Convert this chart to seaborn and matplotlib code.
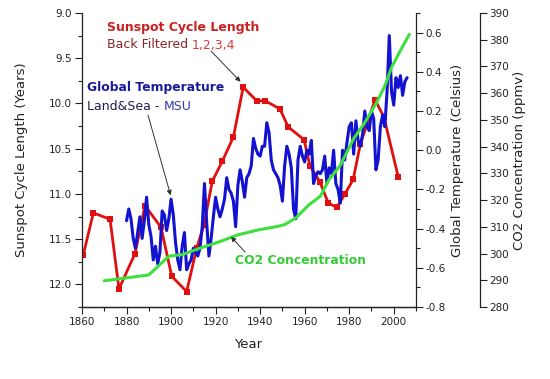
import numpy as np
import pandas as pd
import seaborn as sns
import matplotlib.pyplot as plt
import matplotlib.ticker as tkr

# sunspot cycle length (years), red curve
ssc_year = [1860.6, 1865.1, 1872.6, 1876.6, 1883.8, 1888.3, 1895.5, 1900.3, 1907.0, 1911.5,
            1914.8, 1918.5, 1923.0, 1928.0, 1932.4, 1938.4, 1942.2, 1948.9, 1952.6, 1959.7,
            1962.4, 1966.9, 1970.6, 1974.4, 1978.1, 1981.8, 1985.0, 1991.6, 1995.6, 2002.0]
ssc_len = [11.67, 11.21, 11.28, 12.05, 11.66, 11.13, 11.37, 11.91, 12.08, 11.60,
           11.34, 10.86, 10.64, 10.37, 9.82, 9.97, 9.97, 10.06, 10.26, 10.40,
           10.69, 10.87, 11.10, 11.15, 11.00, 10.84, 10.45, 9.96, 10.15, 10.81]

# global temperature anomaly (Celsius), blue curve
temp_year = list(range(1880, 2007))
temp_anom = [-0.36, -0.30, -0.35, -0.45, -0.50, -0.42, -0.34, -0.45, -0.36, -0.24,
             -0.38, -0.44, -0.56, -0.49, -0.58, -0.52, -0.31, -0.33, -0.41, -0.35,
             -0.25, -0.33, -0.47, -0.56, -0.61, -0.49, -0.42, -0.61, -0.58, -0.56,
             -0.50, -0.52, -0.54, -0.50, -0.39, -0.17, -0.37, -0.54, -0.45, -0.34,
             -0.24, -0.30, -0.34, -0.30, -0.25, -0.14, -0.20, -0.22, -0.26, -0.39,
             -0.18, -0.10, -0.16, -0.24, -0.14, -0.12, -0.08, 0.06, 0.01, -0.02,
             -0.03, 0.02, 0.02, 0.14, 0.09, -0.05, -0.10, -0.12, -0.14, -0.18,
             -0.26, -0.08, 0.02, -0.02, -0.09, -0.30, -0.35, -0.05, 0.02, -0.03,
             -0.06, 0.00, -0.02, 0.05, -0.17, -0.13, -0.11, -0.12, -0.10, -0.03,
             -0.17, -0.09, -0.12, 0.00, -0.17, -0.20, -0.27, 0.00, -0.05, 0.04,
             0.12, 0.14, -0.02, 0.15, 0.05, 0.02, 0.08, 0.20, 0.12, 0.10,
             0.20, 0.16, -0.10, -0.05, 0.12, 0.18, 0.12, 0.30, 0.585, 0.30,
             0.23, 0.37, 0.32, 0.38, 0.28, 0.35, 0.37]

# CO2 concentration (ppmv), green curve
co2_year = [1870, 1890, 1899, 1905, 1913, 1922, 1930, 1940, 1947, 1951, 1956, 1962,
            1967, 1971, 1976, 1982, 1987, 1992, 1996, 1999, 2003, 2007]
co2_ppmv = [289.8, 292.0, 299.0, 299.6, 302.0, 304.5, 307.0, 309.0, 310.0, 310.8, 313.3, 318.3,
            321.4, 327.7, 333.0, 343.0, 349.0, 356.0, 362.7, 369.6, 376.0, 382.0]

sns.set_theme(style='ticks')
plt.rcParams['font.family'] = ['DejaVu Sans']
txt = '#222222'

fig = plt.figure(figsize=(5.5, 3.79), dpi=100)
ax = fig.add_axes([82 / 550, 1 - 307 / 379, 334 / 550, 294 / 379])
ax2 = ax.twinx()
ax3 = ax.twinx()

sns.lineplot(x=ssc_year, y=ssc_len, ax=ax, color='#e01010', lw=2.0,
             marker='s', markersize=4.5, markeredgewidth=0)
sns.lineplot(x=temp_year, y=temp_anom, ax=ax2, color='#1212d0', lw=2.2)
sns.lineplot(x=co2_year, y=co2_ppmv, ax=ax3, color='#3ee03e', lw=2.2)

ax.set_xlim(1860, 2010)
ax.set_ylim(12.25, 9.0)
ax2.set_ylim(-0.8, 0.7)
ax3.set_ylim(280, 390)

ax.xaxis.set_major_locator(tkr.MultipleLocator(20))
ax.xaxis.set_minor_locator(tkr.MultipleLocator(10))
ax.yaxis.set_major_locator(tkr.MultipleLocator(0.5))
ax.yaxis.set_minor_locator(tkr.MultipleLocator(0.25))
ax.yaxis.set_major_formatter(tkr.FormatStrFormatter('%.1f'))
ax2.yaxis.set_major_locator(tkr.MultipleLocator(0.2))
ax2.yaxis.set_minor_locator(tkr.MultipleLocator(0.1))
ax2.yaxis.set_major_formatter(tkr.FormatStrFormatter('%.1f'))
ax3.yaxis.set_major_locator(tkr.MultipleLocator(10))

for a in (ax, ax2, ax3):
    a.spines['top'].set_visible(False)
    a.tick_params(which='major', direction='out', length=5, width=0.8,
                  labelsize=7.5, colors=txt, pad=2)
    a.tick_params(which='minor', direction='out', length=3, width=0.8, colors=txt)
    for s in a.spines.values():
        s.set_color(txt)
        s.set_linewidth(0.9)
ax.spines['right'].set_visible(False)
ax2.spines['left'].set_visible(False)
ax3.spines['left'].set_visible(False)
ax3.spines['bottom'].set_visible(False)
ax3.spines['right'].set_position(('outward', 46))  # points, ~64 px

ax.set_xlabel('Year', fontsize=9.5, color=txt)
ax.set_ylabel('Sunspot Cycle Length (Years)', fontsize=9.5, color=txt)
ax2.set_ylabel('Global Temperature (Celsius)', fontsize=9.5, color=txt)
ax3.set_ylabel('CO2 Concentration (ppmv)', fontsize=9.5, color=txt)
ax.xaxis.set_label_coords(0.496, -0.105)
ax.yaxis.set_label_coords(-0.162, 0.5)
ax2.yaxis.set_label_coords(1.105, 0.5)
ax3.yaxis.set_label_coords(1.29, 0.5)

# annotations
fig.text(107 / 550, 1 - 28 / 379, 'Sunspot Cycle Length', color='#cc2020',
         fontsize=9, fontweight='bold', va='center')
t = fig.text(107 / 550, 1 - 45 / 379, 'Back Filtered ', color='#8a2626',
             fontsize=9, va='center')
fig.canvas.draw()
bb = t.get_window_extent()
fig.text(bb.x1 / 550, 1 - 45 / 379, '1,2,3,4', color='#d83a3a', fontsize=9, va='center')

fig.text(87 / 550, 1 - 88 / 379, 'Global Temperature', color='#1a1a9a',
         fontsize=8.9, fontweight='bold', va='center')
t = fig.text(87 / 550, 1 - 106 / 379, 'Land&Sea - ', color='#1e1e55',
             fontsize=9, va='center')
fig.canvas.draw()
bb = t.get_window_extent()
fig.text(bb.x1 / 550, 1 - 106 / 379, 'MSU', color='#3a3ab0', fontsize=9, va='center')

fig.text(235 / 550, 1 - 261 / 379, 'CO2 Concentration', color='#33cc33',
         fontsize=8.9, fontweight='bold', va='center')

arrow = dict(arrowstyle='-|>', color='#333333', lw=0.7, mutation_scale=7, shrinkA=0, shrinkB=0)
ax.annotate('', xy=(1931.2, 9.76), xycoords='data',
            xytext=(211 / 550, 1 - 51 / 379), textcoords='figure fraction', arrowprops=arrow)
ax2.annotate('', xy=(1899.8, -0.23), xycoords='data',
             xytext=(148 / 550, 1 - 115 / 379), textcoords='figure fraction', arrowprops=arrow)
ax3.annotate('', xy=(1926.9, 306.3), xycoords='data',
             xytext=(245 / 550, 1 - 252 / 379), textcoords='figure fraction', arrowprops=arrow)

plt.savefig('out.png', dpi=100)
